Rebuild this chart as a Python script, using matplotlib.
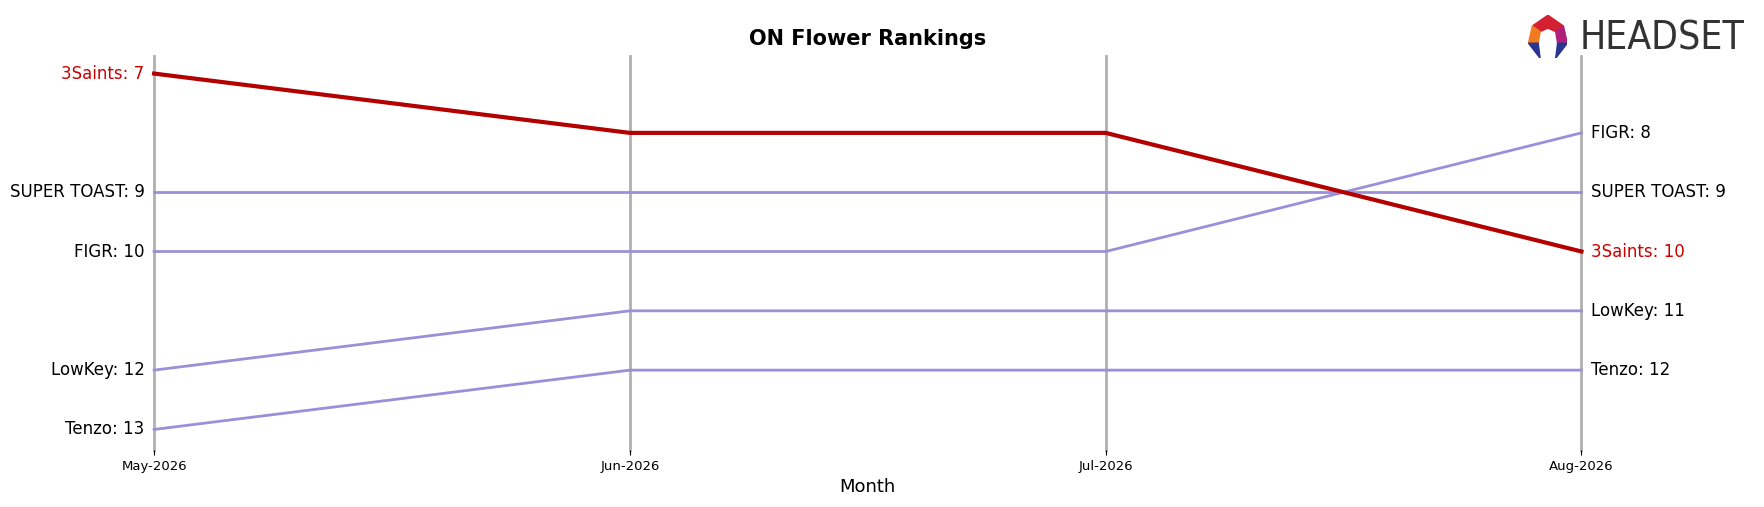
import matplotlib.pyplot as plt
from matplotlib.patches import Polygon

months = ["May-2026", "Jun-2026", "Jul-2026", "Aug-2026"]
brands = ["3Saints", "SUPER TOAST", "FIGR", "LowKey", "Tenzo"]
ranks = {
    "3Saints": [7, 8, 8, 10],
    "SUPER TOAST": [9, 9, 9, 9],
    "FIGR": [10, 10, 10, 8],
    "LowKey": [12, 11, 11, 11],
    "Tenzo": [13, 12, 12, 12],
}
highlight = "3Saints"

fig = plt.figure(figsize=(17.65, 5.07), dpi=100)
ax = fig.add_axes([0.0873, 0.112, 0.8087, 0.778])
x = list(range(len(months)))

for i in x:
    ax.axvline(i, color="#b0b0b0", lw=2, zorder=1, clip_on=False)

for b in brands:
    if b == highlight:
        ax.plot(x, ranks[b], color="#b30000", lw=3, zorder=3, clip_on=False)
    else:
        ax.plot(x, ranks[b], color="#9b8fd9", lw=2, zorder=2, clip_on=False)
    c = "#cc0000" if b == highlight else "black"
    ax.text(-0.02, ranks[b][0], f"{b}: {ranks[b][0]}", ha="right", va="center", fontsize=12, color=c)
    ax.text(x[-1] + 0.02, ranks[b][-1], f"{b}: {ranks[b][-1]}", ha="left", va="center", fontsize=12, color=c)

ax.set_ylim(13.35, 6.7)
ax.set_xlim(0, 3)
ax.set_yticks([])
ax.set_xticks(x)
ax.set_xticklabels(months, fontsize=9.5)
for s in ["top", "right", "left", "bottom"]:
    ax.spines[s].set_visible(False)
ax.set_xlabel("Month", fontsize=13)
ax.set_title("ON Flower Rankings", fontsize=15, fontweight="bold", pad=8)

# logo
lax = fig.add_axes([0.866, 0.885, 0.022, 0.085])
lax.set_xlim(0, 1)
lax.set_ylim(0, 1)
lax.axis("off")
lax.add_patch(Polygon([[0.1, 0.75], [0.5, 1.0], [0.9, 0.75], [0.7, 0.62], [0.5, 0.7], [0.3, 0.62]], color="#d42030"))
lax.add_patch(Polygon([[0.1, 0.75], [0.3, 0.62], [0.25, 0.35], [0.0, 0.35]], color="#f47a20"))
lax.add_patch(Polygon([[0.9, 0.75], [0.7, 0.62], [0.75, 0.35], [1.0, 0.35]], color="#b0207a"))
lax.add_patch(Polygon([[0.0, 0.35], [0.25, 0.35], [0.3, 0.0]], color="#2a3590"))
lax.add_patch(Polygon([[1.0, 0.35], [0.75, 0.35], [0.7, 0.0]], color="#2a3590"))
fig.text(0.895, 0.925, "HEADSET", fontsize=28, color="#333333", va="center", ha="left",
         fontstretch="condensed", fontweight="medium")

fig.savefig("out.png", dpi=100)
